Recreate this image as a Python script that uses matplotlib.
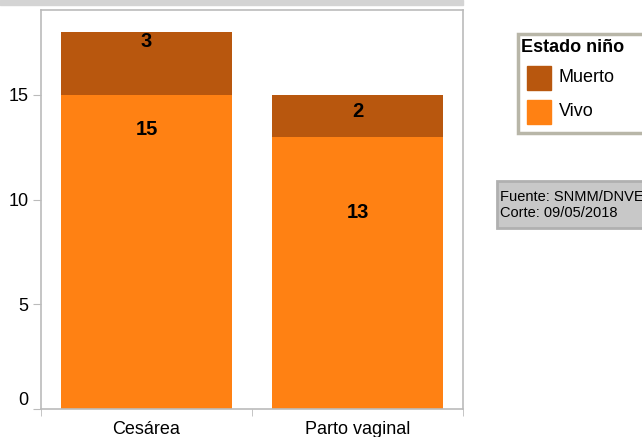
import numpy as np
import matplotlib.pyplot as plt
from matplotlib.patches import Rectangle

categorias = ['Cesárea', 'Parto vaginal']
vivo = [15, 13]
muerto = [3, 2]
serie_nombres = ['Muerto', 'Vivo']
y_ticks = [0, 5, 10, 15]

col_muerto = '#B8570E'
col_vivo = '#FF8113'

plt.rcParams['font.family'] = ['Liberation Sans', 'DejaVu Sans']

fig = plt.figure(figsize=(6.42, 4.37), dpi=100)
ax = fig.add_axes([41/642, 1 - 409/437, 422/642, 399/437])

x = np.arange(len(categorias))
w = 0.81
ax.bar(x, vivo, width=w, color=col_vivo, label='Vivo')
ax.bar(x, muerto, width=w, bottom=vivo, color=col_muerto, label='Muerto')

# label positions (y in data units)
pos_vivo = [13.35, 9.4]
pos_muerto = [17.55, 14.2]
for i in range(len(categorias)):
    ax.text(x[i], pos_vivo[i], str(vivo[i]), ha='center', va='center',
            fontsize=14.5, fontweight='bold')
    ax.text(x[i], pos_muerto[i], str(muerto[i]), ha='center', va='center',
            fontsize=14.5, fontweight='bold')

ax.set_xlim(-0.5, 1.5)
ax.set_ylim(0, 19.05)
ax.set_yticks(y_ticks)
ax.set_yticklabels([str(t) for t in y_ticks], fontsize=13)
ax.get_yticklabels()[0].set_va('bottom')
ax.set_xticks(x)
ax.set_xticklabels(categorias, fontsize=13)
ax.tick_params(axis='x', length=0, pad=9)
ax.tick_params(axis='y', length=6, color='#BBBBBB', pad=3)
ax.set_xticks([-0.5, 0.5, 1.5], minor=True)
ax.tick_params(axis='x', which='minor', length=5, color='#BBBBBB', direction='out')
for s in ax.spines.values():
    s.set_color('#BBBBBB')
    s.set_linewidth(1.2)

# gray strip at top
fig.patches.append(Rectangle((0, 1 - 5/437), 463/642, 5/437,
                             transform=fig.transFigure, color='#D4D4D4', zorder=0))

# legend box
lx0, ly0, lw, lh = 518/642, 1 - 133/437, 130/642, 99/437
fig.patches.append(Rectangle((lx0, ly0), lw, lh, transform=fig.transFigure,
                             facecolor='white', edgecolor='#B8B6A8', linewidth=2.5))
fig.text(521/642, 1 - 47/437, 'Estado niño', fontsize=13, fontweight='bold',
         va='center', ha='left')
for j, (nombre, col) in enumerate(zip(serie_nombres, [col_muerto, col_vivo])):
    yc = 1 - (78 + j * 34) / 437
    fig.patches.append(Rectangle((527/642, yc - 12/437), 24/642, 24/437,
                                 transform=fig.transFigure, color=col))
    fig.text(559/642, yc, nombre, fontsize=13, va='center', ha='left')

# source box (text runs off the right edge, as in the original)
fig.patches.append(Rectangle((497/642, 1 - 228/437), 150/642, 47/437,
                             transform=fig.transFigure, facecolor='#C8C8C8',
                             edgecolor='#B0B0B0', linewidth=2))
fig.text(500/642, 1 - 197/437, 'Fuente: SNMM/DNVE', fontsize=10.5, va='center')
fig.text(500/642, 1 - 213/437, 'Corte: 09/05/2018', fontsize=10.5, va='center')

fig.savefig('out.png', dpi=100)
